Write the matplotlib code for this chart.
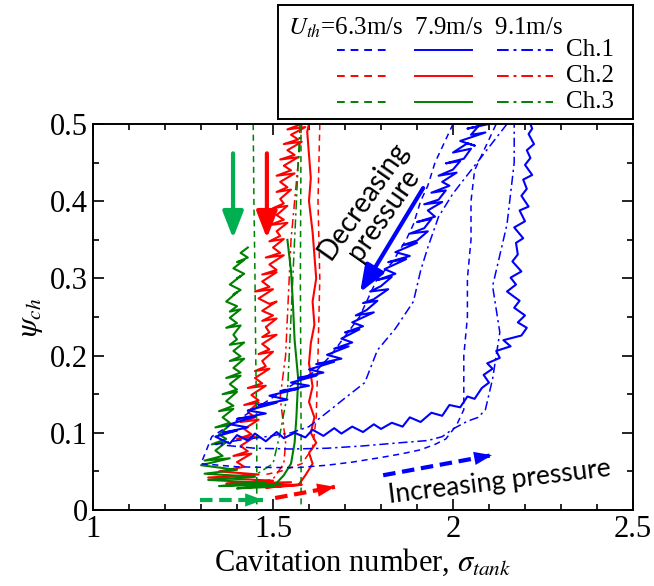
import numpy as np
import matplotlib
matplotlib.use('Agg')
import matplotlib.pyplot as plt
from matplotlib.ticker import MultipleLocator, FuncFormatter

plt.rcParams['font.family'] = ['Liberation Serif', 'DejaVu Serif']
plt.rcParams['mathtext.fontset'] = 'stix'

# ---- data (sigma_tank, psi_ch) ----
# Ch.1, U_th = 7.9 m/s (solid): decreasing band, then bottom and right branch
ch1_79_x = [2.10, 2.04, 2.07, 2.05, 2.09, 2.02, 2.06, 2.04, 2.00, 2.05, 2.03, 1.98, 2.02, 2.00, 1.96,
            2.01, 1.97, 1.99, 1.94, 1.98, 1.96, 1.92, 1.97, 1.93, 1.95, 1.90, 1.94, 1.92, 1.88, 1.93,
            1.90, 1.86, 1.90, 1.84, 1.88, 1.82, 1.87, 1.81, 1.84, 1.79, 1.83, 1.80, 1.77, 1.82, 1.78,
            1.75, 1.79, 1.76, 1.73, 1.78, 1.72, 1.75, 1.70, 1.74, 1.69, 1.72, 1.67, 1.71, 1.65, 1.69,
            1.62, 1.67, 1.60, 1.64, 1.57, 1.62, 1.55, 1.60, 1.52, 1.57, 1.49, 1.54, 1.46, 1.51, 1.43,
            1.48, 1.40, 1.45, 1.38, 1.43, 1.36, 1.40, 1.34,
            1.38, 1.40, 1.43, 1.45, 1.48, 1.51, 1.53, 1.56, 1.59, 1.61, 1.64, 1.67, 1.69, 1.72, 1.75,
            1.78, 1.80, 1.83, 1.86, 1.88, 1.91, 1.94, 1.97, 1.99, 2.02, 2.04, 2.06, 2.08,
            2.10, 2.085, 2.11, 2.095, 2.13, 2.12, 2.16, 2.14, 2.19, 2.205, 2.18, 2.20, 2.17, 2.185, 2.15,
            2.175, 2.16, 2.19, 2.165, 2.18, 2.175, 2.195, 2.17, 2.20, 2.185, 2.21, 2.19, 2.205, 2.195, 2.22,
            2.20, 2.215, 2.205, 2.225, 2.21, 2.22, 2.215]
ch1_79_y = [0.500, 0.494, 0.497, 0.486, 0.489, 0.478, 0.472, 0.475, 0.463, 0.468, 0.455, 0.449, 0.452, 0.441, 0.433,
            0.437, 0.425, 0.420, 0.411, 0.414, 0.402, 0.396, 0.399, 0.388, 0.380, 0.373, 0.377, 0.365, 0.358, 0.361,
            0.349, 0.343, 0.346, 0.334, 0.329, 0.321, 0.325, 0.312, 0.306, 0.298, 0.302, 0.290, 0.283, 0.286, 0.273,
            0.268, 0.271, 0.259, 0.252, 0.256, 0.243, 0.238, 0.230, 0.234, 0.222, 0.217, 0.209, 0.212, 0.201, 0.196,
            0.189, 0.192, 0.182, 0.178, 0.171, 0.174, 0.165, 0.161, 0.154, 0.157, 0.148, 0.143, 0.136, 0.139, 0.129,
            0.125, 0.118, 0.121, 0.111, 0.107, 0.100, 0.103, 0.095,
            0.086, 0.097, 0.090, 0.099, 0.089, 0.101, 0.093, 0.100, 0.094, 0.104, 0.096, 0.106, 0.099, 0.108, 0.101,
            0.111, 0.105, 0.113, 0.108, 0.120, 0.114, 0.126, 0.122, 0.136, 0.133, 0.147, 0.144, 0.158,
            0.165, 0.175, 0.183, 0.190, 0.197, 0.206, 0.212, 0.220, 0.226, 0.236, 0.243, 0.252, 0.262, 0.271, 0.283,
            0.292, 0.301, 0.309, 0.322, 0.331, 0.346, 0.352, 0.366, 0.374, 0.388, 0.393, 0.407, 0.416, 0.428, 0.434,
            0.447, 0.456, 0.466, 0.474, 0.487, 0.494, 0.500]

# Ch.1, U_th = 6.3 m/s (dashed)
ch1_63_x = [2.00, 1.97, 1.95, 1.93, 1.91, 1.89, 1.87, 1.83, 1.79, 1.76, 1.74, 1.70, 1.66, 1.62, 1.58,
            1.53, 1.48, 1.43, 1.38, 1.33, 1.30,
            1.40, 1.50, 1.57, 1.65, 1.72, 1.80, 1.86, 1.91, 1.95, 1.98, 2.01, 2.03, 2.03, 2.03,
            2.04, 2.04, 2.05, 2.05, 2.06, 2.09, 2.12]
ch1_63_y = [0.50, 0.47, 0.45, 0.42, 0.40, 0.37, 0.35, 0.32, 0.30, 0.27, 0.25, 0.225, 0.20, 0.18, 0.17,
            0.155, 0.14, 0.125, 0.11, 0.095, 0.06,
            0.056, 0.055, 0.055, 0.058, 0.062, 0.068, 0.073, 0.078, 0.085, 0.092, 0.11, 0.13, 0.15, 0.20,
            0.25, 0.30, 0.35, 0.40, 0.44, 0.47, 0.50]

# Ch.1, U_th = 9.1 m/s (dash-dot)
ch1_91_x = [2.15, 2.10, 2.05, 2.00, 1.96, 1.93, 1.91, 1.89, 1.84, 1.79, 1.755, 1.70, 1.66, 1.60, 1.55,
            1.48, 1.40, 1.34,
            1.45, 1.55, 1.65, 1.75, 1.85, 1.93, 1.97, 2.00, 2.04, 2.07, 2.09, 2.10, 2.11, 2.12, 2.13,
            2.12, 2.11, 2.13, 2.15, 2.16, 2.17, 2.17]
ch1_91_y = [0.50, 0.47, 0.44, 0.41, 0.38, 0.34, 0.31, 0.27, 0.235, 0.207, 0.165, 0.145, 0.13, 0.108, 0.10,
            0.095, 0.09, 0.085,
            0.080, 0.079, 0.080, 0.083, 0.087, 0.090, 0.095, 0.105, 0.115, 0.120, 0.130, 0.150, 0.170, 0.200, 0.230,
            0.260, 0.290, 0.330, 0.370, 0.410, 0.450, 0.500]

# Ch.2, U_th = 7.9 m/s (solid)
ch2_79_x = [1.58, 1.54, 1.59, 1.55, 1.57, 1.53, 1.58, 1.54, 1.56, 1.52, 1.57, 1.53, 1.55, 1.51, 1.56,
            1.52, 1.54, 1.51, 1.55, 1.52, 1.53, 1.50, 1.54, 1.51, 1.53, 1.49, 1.54, 1.51, 1.52, 1.49,
            1.53, 1.50, 1.52, 1.48, 1.53, 1.49, 1.51, 1.47, 1.51, 1.47, 1.49, 1.45, 1.50, 1.46, 1.49,
            1.51, 1.47, 1.50, 1.47, 1.51, 1.48, 1.49, 1.47, 1.51, 1.47, 1.49, 1.46, 1.50, 1.47, 1.48,
            1.45, 1.49, 1.45, 1.47, 1.43, 1.48, 1.44, 1.46, 1.42, 1.46, 1.43, 1.45, 1.41, 1.46, 1.42,
            1.44, 1.40, 1.45, 1.41, 1.43, 1.39, 1.44, 1.40, 1.42, 1.35, 1.46, 1.32, 1.50, 1.37, 1.55,
            1.43, 1.58, 1.48, 1.57,
            1.59, 1.61, 1.60, 1.62, 1.605, 1.615, 1.60, 1.61, 1.60, 1.605, 1.615, 1.61, 1.62, 1.615, 1.61,
            1.60, 1.605, 1.60, 1.595, 1.60]
ch2_79_y = [0.500, 0.493, 0.496, 0.486, 0.480, 0.474, 0.477, 0.466, 0.460, 0.454, 0.457, 0.446, 0.440, 0.433, 0.436,
            0.425, 0.418, 0.412, 0.415, 0.403, 0.397, 0.391, 0.394, 0.382, 0.376, 0.369, 0.372, 0.361, 0.355, 0.348,
            0.351, 0.340, 0.333, 0.327, 0.330, 0.318, 0.311, 0.305, 0.308, 0.296, 0.289, 0.283, 0.286, 0.274, 0.267,
            0.270, 0.258, 0.252, 0.245, 0.248, 0.237, 0.230, 0.224, 0.227, 0.215, 0.208, 0.202, 0.205, 0.193, 0.186,
            0.180, 0.183, 0.171, 0.164, 0.158, 0.161, 0.149, 0.142, 0.136, 0.139, 0.127, 0.120, 0.114, 0.117, 0.105,
            0.098, 0.092, 0.095, 0.083, 0.076, 0.070, 0.073, 0.062, 0.056, 0.050, 0.046, 0.042, 0.038, 0.034, 0.036,
            0.031, 0.033, 0.029, 0.032,
            0.045, 0.060, 0.074, 0.087, 0.100, 0.120, 0.140, 0.160, 0.190, 0.216, 0.240, 0.270, 0.300, 0.330, 0.360,
            0.400, 0.430, 0.460, 0.490, 0.500]

# Ch.2, U_th = 6.3 m/s (dashed)
ch2_63_x = [1.63, 1.625, 1.63, 1.625, 1.62, 1.61, 1.58, 1.52, 1.47]
ch2_63_y = [0.50, 0.40, 0.30, 0.20, 0.12, 0.08, 0.06, 0.05, 0.045]

# Ch.2, U_th = 9.1 m/s (dash-dot)
ch2_91_x = [1.58, 1.57, 1.56, 1.55, 1.545, 1.54, 1.535, 1.52, 1.535, 1.53, 1.50, 1.45]
ch2_91_y = [0.50, 0.45, 0.40, 0.35, 0.30, 0.25, 0.20, 0.146, 0.087, 0.06, 0.04, 0.035]

# Ch.3, U_th = 7.9 m/s (solid)
ch3_79_x = [1.43, 1.41, 1.43, 1.40, 1.42, 1.39, 1.42, 1.40, 1.41, 1.38, 1.41, 1.39, 1.40, 1.37, 1.40,
            1.38, 1.41, 1.38, 1.40, 1.37, 1.41, 1.39, 1.40, 1.38, 1.42, 1.39, 1.41, 1.38, 1.42, 1.39,
            1.41, 1.37, 1.41, 1.38, 1.40, 1.36, 1.40, 1.37, 1.39, 1.35, 1.39, 1.36, 1.38, 1.34, 1.38,
            1.35, 1.37, 1.33, 1.37, 1.34, 1.36, 1.31, 1.38, 1.30, 1.40, 1.31, 1.45, 1.32, 1.48, 1.35,
            1.52, 1.40, 1.50,
            1.53, 1.55, 1.56, 1.565, 1.57, 1.56, 1.555, 1.55, 1.54]
ch3_79_y = [0.340, 0.333, 0.327, 0.321, 0.324, 0.313, 0.306, 0.300, 0.303, 0.292, 0.285, 0.279, 0.282, 0.270, 0.264,
            0.257, 0.260, 0.249, 0.242, 0.236, 0.239, 0.227, 0.221, 0.214, 0.217, 0.206, 0.199, 0.193, 0.196, 0.184,
            0.178, 0.171, 0.174, 0.163, 0.156, 0.150, 0.153, 0.141, 0.135, 0.128, 0.131, 0.120, 0.113, 0.107, 0.110,
            0.098, 0.092, 0.085, 0.088, 0.077, 0.070, 0.064, 0.067, 0.058, 0.052, 0.047, 0.043, 0.039, 0.035, 0.031,
            0.033, 0.028, 0.030,
            0.045, 0.060, 0.087, 0.120, 0.170, 0.220, 0.270, 0.310, 0.350]

# Ch.3, U_th = 6.3 m/s (dashed, two near-vertical branches)
ch3_63_x = [1.445, 1.447, 1.45, 1.452, 1.455, 1.455, np.nan, 1.578, 1.577, 1.576, 1.577, 1.578, 1.578]
ch3_63_y = [0.50, 0.40, 0.30, 0.20, 0.10, -0.02, np.nan, 0.50, 0.40, 0.30, 0.20, 0.10, -0.02]

# Ch.3, U_th = 9.1 m/s (dash-dot)
ch3_91_x = [1.575, 1.57, 1.565, 1.56, 1.555, 1.55, 1.545, 1.54, 1.52, 1.50, 1.45, 1.40]
ch3_91_y = [0.50, 0.45, 0.40, 0.35, 0.30, 0.25, 0.20, 0.15, 0.10, 0.06, 0.045, 0.04]

blue, red, green = '#0000ff', '#ff0000', '#008000'
arrow_green = '#00b050'
dash = (0, (4, 3))
dashdot = (0, (6, 2.5, 1.5, 2.5))

fig = plt.figure(figsize=(6.54, 5.86), dpi=100)
ax = fig.add_axes([0.1422, 0.1297, 0.8257, 0.6587])

lw = 1.1
ax.plot(ch2_63_x, ch2_63_y, color=red, lw=lw, ls=dash)
ax.plot(ch2_91_x, ch2_91_y, color=red, lw=lw, ls=dashdot)
ax.plot(ch2_79_x, ch2_79_y, color=red, lw=1.5)
ax.plot(ch3_63_x, ch3_63_y, color=green, lw=lw, ls=dash)
ax.plot(ch3_91_x, ch3_91_y, color=green, lw=lw, ls=dashdot)
ax.plot(ch3_79_x, ch3_79_y, color=green, lw=1.5)
ax.plot(ch1_63_x, ch1_63_y, color=blue, lw=lw, ls=dash)
ax.plot(ch1_91_x, ch1_91_y, color=blue, lw=lw, ls=dashdot)
ax.plot(ch1_79_x, ch1_79_y, color=blue, lw=1.5)

ax.set_xlim(1, 2.5)
ax.set_ylim(0, 0.5)
ax.xaxis.set_major_locator(MultipleLocator(0.5))
ax.xaxis.set_minor_locator(MultipleLocator(0.1))
ax.yaxis.set_major_locator(MultipleLocator(0.1))
ax.yaxis.set_minor_locator(MultipleLocator(0.05))
fmt = FuncFormatter(lambda v, p: '%g' % round(v, 3))
ax.xaxis.set_major_formatter(fmt)
ax.yaxis.set_major_formatter(fmt)
ax.tick_params(which='both', direction='in', top=True, right=True, width=1.2, labelsize=22)
ax.tick_params(which='major', length=8)
ax.tick_params(which='minor', length=4.5)
for s in ax.spines.values():
    s.set_linewidth(1.4)
ax.set_xlabel(r'Cavitation number, $\sigma_{tank}$', fontsize=22, labelpad=2)
ax.set_ylabel(r'$\psi_{ch}$', fontsize=22, labelpad=4)


def arrow(p0, p1, color, dashed=False):
    if dashed:
        ax.plot([p0[0], p1[0]], [p0[1], p1[1]], color=color, lw=3, ls=(0, (3, 1.6)),
                solid_capstyle='butt')
        style = '-|>,head_width=0.3,head_length=0.8'
    else:
        style = '-|>,head_width=0.35,head_length=0.9'
    ax.annotate('', xy=p1, xytext=p0,
                arrowprops=dict(arrowstyle=style, lw=0 if dashed else 3, color=color,
                                shrinkA=0, shrinkB=0, mutation_scale=16 if dashed else 18))


arrow((1.389, 0.462), (1.389, 0.352), arrow_green)
arrow((1.483, 0.462), (1.483, 0.352), red)
arrow((1.917, 0.417), (1.742, 0.282), blue)
arrow((1.297, 0.013), (1.472, 0.013), arrow_green, dashed=True)
arrow((1.506, 0.0155), (1.672, 0.030), red, dashed=True)
arrow((1.806, 0.045), (2.108, 0.071), blue, dashed=True)

ax.text(1.778, 0.392, 'Decreasing\npressure', fontsize=20, family='Lato', rotation=55,
        ha='center', va='center', rotation_mode='anchor', multialignment='center',
        linespacing=0.95)
ax.text(2.128, 0.036, 'Increasing pressure', fontsize=19, family='Lato', rotation=7,
        ha='center', va='center', rotation_mode='anchor')

# legend box
lax = fig.add_axes([0.4251, 0.7969, 0.5428, 0.1945])
lax.set_xlim(0, 1)
lax.set_ylim(0, 1)
lax.set_xticks([])
lax.set_yticks([])
for s in lax.spines.values():
    s.set_linewidth(1.4)
lax.text(0.028, 0.80, r'$U_{th}$=6.3m/s  7.9m/s  9.1m/s', fontsize=18, va='center', ha='left')
rows = [0.605, 0.377, 0.149]
cols = [(0.166, 0.315), (0.386, 0.546), (0.617, 0.775)]
styles = [dash, '-', dashdot]
for r, c, name in zip(rows, [blue, red, green], ['Ch.1', 'Ch.2', 'Ch.3']):
    for (x0, x1), st in zip(cols, styles):
        lax.plot([x0, x1], [r, r], color=c, lw=1.4, ls=st)
    lax.text(0.81, r, name, fontsize=18, va='center', ha='left')

fig.savefig('out.png', dpi=100)
